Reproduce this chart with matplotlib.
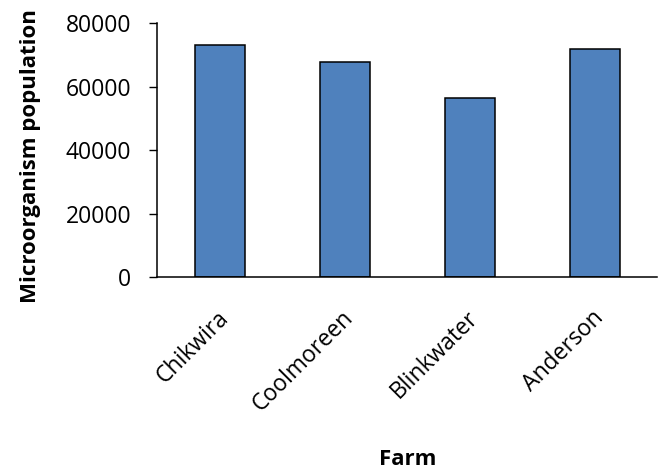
import matplotlib.pyplot as plt
from matplotlib.transforms import ScaledTranslation

# Microorganism counts per farm
farms = ["Chikwira", "Coolmoreen", "Blinkwater", "Anderson"]
population = [73300, 67700, 56600, 72000]
y_ticks = [0, 20000, 40000, 60000, 80000]

plt.rcParams["font.family"] = ["Open Sans", "DejaVu Sans"]

fig = plt.figure(figsize=(6.65, 4.69), dpi=100)
ax = fig.add_axes([0.2368, 0.4087, 0.7519, 0.5416])

x = list(range(len(farms)))
ax.bar(x, population, width=0.4, color="#4F81BD", edgecolor="black", linewidth=1.1)

ax.set_xlim(-0.5, len(farms) - 0.5)
ax.set_ylim(0, 80000)
ax.set_yticks(y_ticks)
ax.set_yticklabels([str(v) for v in y_ticks], fontsize=16.5)
ax.tick_params(axis="y", direction="out", length=6, width=1, pad=13)
ax.tick_params(axis="x", length=0, pad=27)

ax.set_xticks(x)
ax.set_xticklabels(farms, fontsize=16.5, rotation=45, ha="right",
                   rotation_mode="anchor", va="center")
# nudge the slanted labels a little to the right
shift = ScaledTranslation(5 / 100, 0, fig.dpi_scale_trans)
for lbl in ax.get_xticklabels():
    lbl.set_transform(lbl.get_transform() + shift)

for side in ("top", "right"):
    ax.spines[side].set_visible(False)
for side in ("left", "bottom"):
    ax.spines[side].set_linewidth(1.1)

ax.set_ylabel("Microorganism population", fontsize=16, fontweight="bold")
ax.yaxis.set_label_coords(-0.232, 0.478)
ax.set_xlabel("Farm", fontsize=16, fontweight="bold")
ax.xaxis.set_label_coords(0.5, -0.675)

fig.savefig("out.png", dpi=100)
